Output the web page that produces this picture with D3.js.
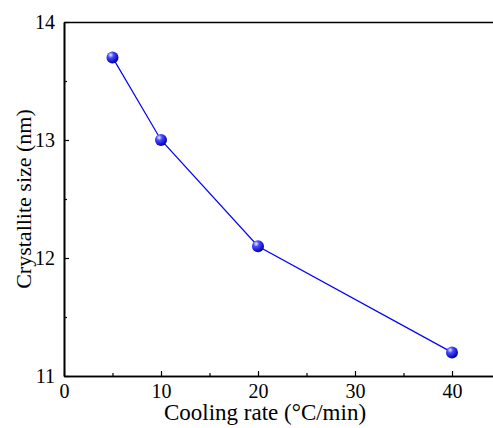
<!DOCTYPE html>
<html><head><meta charset="utf-8">
<script src="https://cdn.jsdelivr.net/npm/d3@7"></script>
<style>body{margin:0;background:#fff}svg{display:block}text{font-family:'Liberation Serif','Times New Roman',serif}</style>
</head><body>
<script>
const coolingRate = [5, 10, 20, 40];
const crystalliteSize = [13.7, 13.0, 12.1, 11.2];
const xTicks = [0, 10, 20, 30, 40];
const yTicks = [11, 12, 13, 14];

const W = 493, H = 428;
const m = {left: 64, top: 22, bottom: 52};
const x = d3.scaleLinear().domain([0, 45]).range([m.left, m.left + 436.5]);
const y = d3.scaleLinear().domain([11, 14]).range([H - m.bottom, m.top]);

const svg = d3.select("body").append("svg").attr("width", W).attr("height", H)
  .attr("font-family", "'Liberation Serif','Times New Roman',serif");
const defs = svg.append("defs");
const g = defs.append("radialGradient").attr("id", "ball").attr("cx", "35%").attr("cy", "30%").attr("r", "70%");
g.append("stop").attr("offset", "0%").attr("stop-color", "#eeeeff");
g.append("stop").attr("offset", "35%").attr("stop-color", "#4a4aff");
g.append("stop").attr("offset", "100%").attr("stop-color", "#0000b0");

const font = "'Liberation Serif','Times New Roman',serif";

const xAxis = d3.axisBottom(x).tickValues(xTicks).tickFormat(d3.format("d")).tickSize(-5).tickPadding(8).tickSizeOuter(0);
const xMinor = d3.axisBottom(x).tickValues([5, 15, 25, 35]).tickSize(-3).tickFormat("").tickSizeOuter(0);
const yAxis = d3.axisLeft(y).tickValues(yTicks).tickFormat(d3.format("d")).tickSize(-5).tickPadding(9).tickSizeOuter(0);
const yMinor = d3.axisLeft(y).tickValues([11.5, 12.5, 13.5]).tickSize(-3).tickFormat("").tickSizeOuter(0);
const xTop = d3.axisTop(x).tickValues([]).tickSizeOuter(0);

function style(sel) {
  sel.attr("font-family", font).attr("font-size", 20);
  sel.selectAll("path").attr("stroke", "#000").attr("stroke-width", 1.6);
  sel.selectAll("line").attr("stroke", "#000").attr("stroke-width", 1.2);
  sel.selectAll("text").attr("font-family", font).attr("font-size", 20).attr("fill", "#000");
}
svg.append("g").attr("transform", `translate(0,${y(11)})`).call(xMinor).call(style);
svg.append("g").attr("transform", `translate(0,${y(11)})`).call(xAxis).call(style);
svg.append("g").attr("transform", `translate(${x(0)},0)`).call(yMinor).call(style);
svg.append("g").attr("transform", `translate(${x(0)},0)`).call(yAxis).call(style);
svg.append("g").attr("transform", `translate(0,${y(14)})`).call(xTop).call(style);

const data = coolingRate.map((d, i) => ({x: d, y: crystalliteSize[i]}));
svg.append("path").datum(data)
  .attr("d", d3.line().x(d => x(d.x)).y(d => y(d.y)))
  .attr("fill", "none").attr("stroke", "#0000ff").attr("stroke-width", 1.2);
svg.selectAll("circle.pt").data(data).enter().append("circle")
  .attr("cx", d => x(d.x)).attr("cy", d => y(d.y)).attr("r", 6)
  .attr("fill", "url(#ball)");

svg.append("text").attr("x", 265).attr("y", 420).attr("text-anchor", "middle")
  .attr("font-family", font).attr("font-size", 23).attr("fill", "#000").text("Cooling rate (°C/min)");
svg.append("text").attr("transform", `translate(31,${(y(11)+y(14))/2}) rotate(-90)`)
  .attr("text-anchor", "middle").attr("font-family", font).attr("font-size", 22).attr("fill", "#000")
  .text("Crystallite size (nm)");
</script>
</body></html>
